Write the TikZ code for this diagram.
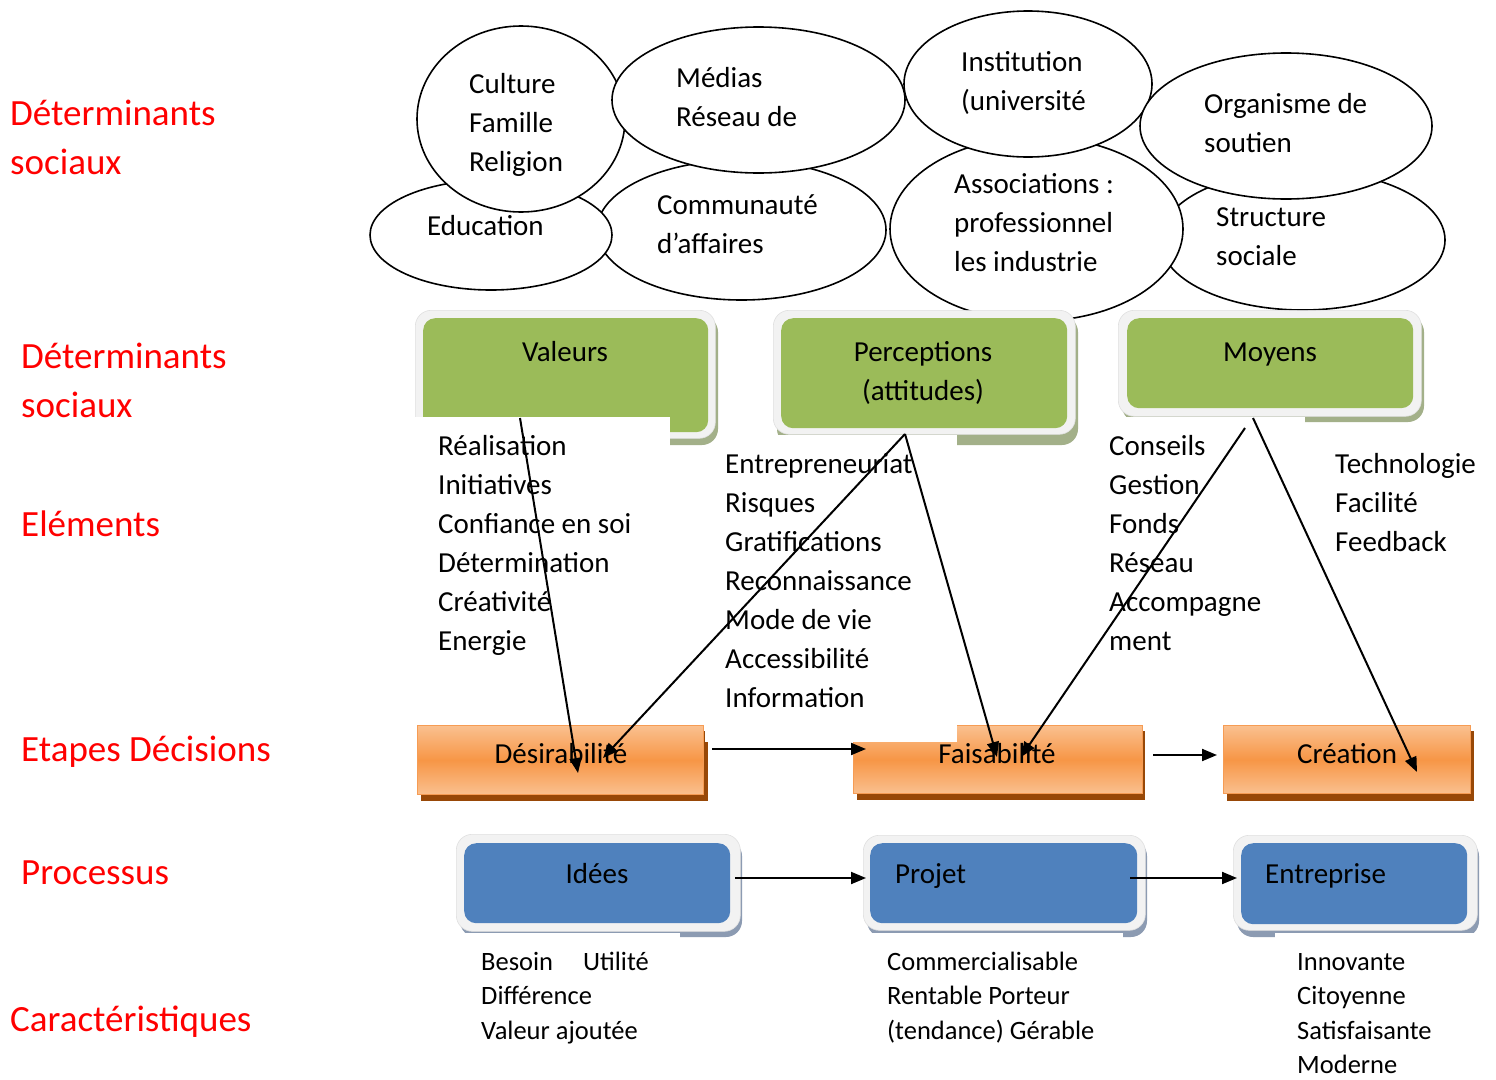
\documentclass[tikz,border=0pt]{standalone}
\usepackage{fontspec}
\setmainfont{Carlito}
\usetikzlibrary{arrows.meta,shapes.geometric}
\definecolor{gin}{RGB}{155,187,89}
\definecolor{gsh}{RGB}{163,176,137}
\definecolor{bin}{RGB}{79,129,189}
\definecolor{bsh}{RGB}{140,155,178}
\definecolor{frame}{RGB}{242,242,242}
\definecolor{frameline}{RGB}{224,224,224}
\definecolor{orl}{RGB}{250,192,143}
\definecolor{orm}{RGB}{247,150,70}
\definecolor{orb}{RGB}{246,156,84}
\definecolor{orsh}{RGB}{152,72,7}
\definecolor{redlab}{RGB}{255,0,0}
\tikzset{
 ell/.style={ellipse, draw, line width=1.6pt, fill=white, inner sep=0pt},
 txt/.style={font=\fontsize{29}{39}\selectfont, inner sep=0pt},
 blk/.style={txt, align=left, anchor=north west, yshift=27.3pt},
 cblk/.style={txt, align=center, anchor=north, yshift=27.3pt},
 ctr/.style={txt, anchor=base},
 lft/.style={txt, anchor=base west},
 smblk/.style={font=\fontsize{26.5}{34.5}\selectfont, inner sep=0pt, align=left, anchor=north west, yshift=24.15pt},
 redtxt/.style={font=\fontsize{37}{49}\selectfont, text=redlab, inner sep=0pt, align=left, anchor=north west, yshift=34.3pt},
 frm/.style={rectangle, rounded corners=16pt, fill=frame, draw=frameline, line width=0.6pt, inner sep=0pt, anchor=north west},
 gbox/.style={rectangle, rounded corners=12pt, fill=gin, inner sep=0pt, anchor=north west},
 bbox/.style={rectangle, rounded corners=12pt, fill=bin, inner sep=0pt, anchor=north west},
 obox/.style={rectangle, shade, top color=orl, bottom color=orl, middle color=orm, draw=orb, line width=1.2pt, inner sep=0pt, anchor=north west},
 cover/.style={fill=white},
 arr/.style={line width=2pt, -{Triangle[length=15pt,width=12pt]}},
}
\begin{document}
\begin{tikzpicture}[x=1pt,y=-1pt]
\path[use as bounding box, fill=white] (0,0) rectangle (1496,1079);

% ---------- ellipses ----------
\node[ell, minimum width=289pt, minimum height=140pt] (comm) at (741.5,230) {};
\node[ell, minimum width=242pt, minimum height=110pt] (educ) at (491,235) {};
\node[ell, minimum width=208pt, minimum height=186pt] (cult) at (521,119) {};
\node[ell, minimum width=293pt, minimum height=146pt] (medi) at (758.5,100) {};
\node[ell, minimum width=285pt, minimum height=140pt] (stru) at (1302.5,240) {};
\node[ell, minimum width=293pt, minimum height=184pt] (asso) at (1036.5,229) {};
\node[ell, minimum width=248pt, minimum height=146pt] (inst) at (1028,84) {};
\node[ell, minimum width=292pt, minimum height=146pt] (orga) at (1286,126) {};

\node[blk] (cultt) at (469,93) {\strut Culture\\Famille\\Religion};
\node[blk] (medit) at (676,87) {\strut Médias\\Réseau de};
\node[blk] (instt) at (961,71) {\strut Institution\\(université};
\node[blk] (orgat) at (1204,113) {\strut Organisme de\\soutien};
\node[blk] (educt) at (427,235) {\strut Education};
\node[blk] (commt) at (657,214) {\strut Communauté\\d’affaires};
\node[blk] (assot) at (954,193) {\strut Associations :\\professionnel\\les industrie};
\node[blk] (strut) at (1216,226) {\strut Structure\\sociale};

% ---------- red labels ----------
\node[redtxt] (l1) at (10,125) {\strut Déterminants\\sociaux};
\node[redtxt] (l2) at (21,368) {\strut Déterminants\\sociaux};
\node[redtxt] (l3) at (21,536) {\strut Eléments};
\node[redtxt] (l4) at (21,761) {\strut Etapes Décisions};
\node[redtxt] (l5) at (21,884) {\strut Processus};
\node[redtxt] (l6) at (10,1031) {\strut Caractéristiques};

% ---------- green boxes ----------
\fill[gsh, rounded corners=16pt] (419,316) rectangle (718,445);
\node[frm, minimum width=300pt, minimum height=128pt] (valf) at (415,310) {};
\node[gbox, minimum width=285pt, minimum height=114pt] (val) at (423,318) {};
\fill[gsh, rounded corners=16pt] (777,316) rectangle (1078,445);
\node[frm, minimum width=302pt, minimum height=124pt] (perf) at (773,310) {};
\node[gbox, minimum width=286pt, minimum height=110pt] (per) at (781,318) {};
\fill[gsh, rounded corners=16pt] (1122,316) rectangle (1424,422);
\node[frm, minimum width=303pt, minimum height=106pt] (moyf) at (1118,310) {};
\node[gbox, minimum width=286pt, minimum height=90pt] (moy) at (1127,318) {};

\node[ctr] (valt) at (565,361) {Valeurs};
\node[cblk] (pert) at (923,361) {\strut Perceptions\\(attitudes)};
\node[ctr] (moyt) at (1270,361) {Moyens};

% covers under element texts
\fill[cover] (412,416.5) rectangle (670,660);
\fill[cover] (720,434.5) rectangle (957,715);
\fill[cover] (1100,416.5) rectangle (1305,660);

\node[blk] (e1) at (438,455) {\strut Réalisation\\Initiatives\\Confiance en soi\\Détermination\\Créativité\\Energie};
\node[blk] (e2) at (725,473) {\strut Entrepreneuriat\\Risques\\Gratifications\\Reconnaissance\\Mode de vie\\Accessibilité\\Information};
\node[blk] (e3) at (1109,455) {\strut Conseils\\Gestion\\Fonds\\Réseau\\Accompagne\\ment};
\node[blk] (e4) at (1335,473) {\strut Technologie\\Facilité\\Feedback};

% ---------- orange boxes ----------
\fill[orsh] (421,731) rectangle (708,801);
\node[obox, minimum width=286pt, minimum height=69pt] (des) at (417,725) {};
\fill[orsh] (857,731) rectangle (1145,800);
\node[obox, minimum width=289pt, minimum height=68pt] (fai) at (853,725) {};
\fill[orsh] (1227,731) rectangle (1474,801);
\node[obox, minimum width=247pt, minimum height=68pt] (cre) at (1223,725) {};
\fill[cover] (704.5,719) rectangle (957,741.5);

\node[ctr] (dest) at (561,763) {Désirabilité};
\node[ctr] (fait) at (997,763) {Faisabilité};
\node[ctr] (cret) at (1347,763) {Création};

% ---------- blue boxes ----------
\fill[bsh, rounded corners=16pt] (460,840) rectangle (742,937);
\node[frm, minimum width=284pt, minimum height=97pt] (idef) at (456,834) {};
\node[bbox, minimum width=266pt, minimum height=80pt] (ide) at (464,843) {};
\fill[bsh, rounded corners=16pt] (867,840) rectangle (1147,937);
\node[frm, minimum width=282pt, minimum height=95pt] (prof) at (863,835) {};
\node[bbox, minimum width=267pt, minimum height=80pt] (pro) at (870,843) {};
\fill[bsh, rounded corners=16pt] (1237,840) rectangle (1479,937);
\node[frm, minimum width=244pt, minimum height=95pt] (entf) at (1233,835) {};
\node[bbox, minimum width=226pt, minimum height=81pt] (ent) at (1241,843) {};

\fill[cover] (450,932.5) rectangle (680,1079);
\fill[cover] (860,932.5) rectangle (1123,1079);
\fill[cover] (1275,932.5) rectangle (1490,1079);

\node[ctr] (idet) at (597,883) {Idées};
\node[lft] (prot) at (895,883) {Projet};
\node[lft] (entt) at (1265,883) {Entreprise};

\node[smblk] (c1) at (481,970) {\strut Besoin\hspace{30pt}Utilité\\Différence\\Valeur ajoutée};
\node[smblk] (c2) at (887,970) {\strut Commercialisable\\Rentable Porteur\\(tendance) Gérable};
\node[smblk] (c3) at (1297,970) {\strut Innovante\\Citoyenne\\Satisfaisante\\Moderne};

% ---------- connectors ----------
\coordinate (a1s) at (520,418);   \coordinate (a1e) at (578,773);
\coordinate (a2s) at (905,434);   \coordinate (a2e) at (603,758);
\coordinate (a3e) at (997,757);
\coordinate (a4s) at (1245,428);  \coordinate (a4e) at (1021,757);
\coordinate (a5s) at (1253,418);  \coordinate (a5e) at (1417,772);
\coordinate (a6s) at (712,749);   \coordinate (a6e) at (866,749);
\coordinate (a7s) at (1153,755);  \coordinate (a7e) at (1217,755);
\coordinate (a8s) at (735,878);   \coordinate (a8e) at (866,878);
\coordinate (a9s) at (1130,878);  \coordinate (a9e) at (1237,878);

\draw[arr] (a1s) -- (a1e);
\draw[arr] (a2s) -- (a2e);
\draw[arr] (a2s) -- (a3e);
\draw[arr] (a4s) -- (a4e);
\draw[arr] (a5s) -- (a5e);
\draw[arr] (a6s) -- (a6e);
\draw[arr] (a7s) -- (a7e);
\draw[arr] (a8s) -- (a8e);
\draw[arr] (a9s) -- (a9e);
\end{tikzpicture}
\end{document}
